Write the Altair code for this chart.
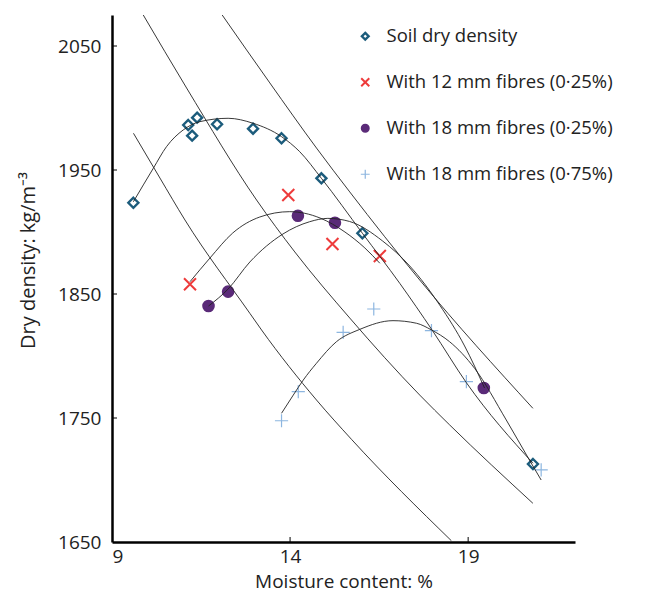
import altair as alt
import pandas as pd

# ---------------- measured points ----------------
series_names = ["Soil dry density", "With 12 mm fibres (0·25%)",
                "With 18 mm fibres (0·25%)", "With 18 mm fibres (0·75%)"]

soil_x = [9.60, 11.14, 11.39, 11.25, 11.95, 12.96, 13.76, 14.88, 16.03, 20.82]
soil_y = [1923.6, 1986.3, 1992.2, 1977.7, 1986.9, 1983.3, 1975.6, 1943.3, 1899.0, 1712.9]

f12_x = [11.19, 13.95, 15.19, 16.52]
f12_y = [1857.8, 1929.8, 1890.3, 1880.6]

f18a_x = [11.71, 12.26, 14.22, 15.26, 19.44]
f18a_y = [1840.3, 1851.9, 1913.1, 1907.5, 1774.2]

f18b_x = [13.76, 14.23, 15.49, 16.35, 17.97, 18.95, 21.05]
f18b_y = [1747.8, 1771.2, 1819.1, 1837.9, 1820.4, 1779.3, 1708.1]

# ---------------- fitted curves ----------------
soil_fit_x = [9.60, 10.16, 10.53, 11.00, 11.47, 12.26, 12.96, 13.76, 14.27, 14.88,
              16.03, 17.08, 18.00, 18.95, 20.82]
soil_fit_y = [1924.4, 1951.4, 1968.8, 1982.3, 1989.0, 1991.7, 1987.7, 1976.9, 1964.8,
              1943.3, 1899.0, 1858.6, 1820.4, 1778.5, 1713.5]

f12_fit_x = [11.19, 11.75, 12.39, 13.15, 13.99, 14.84, 15.54, 16.10, 16.52]
f12_fit_y = [1859.9, 1879.0, 1899.2, 1912.1, 1916.4, 1911.3, 1900.0, 1887.1, 1874.8]

f18a_fit_x = [11.71, 12.26, 12.87, 13.80, 14.55, 15.06, 15.67, 16.60, 17.36, 18.20, 18.90, 19.46]
f18a_fit_y = [1840.3, 1854.0, 1875.8, 1898.4, 1908.3, 1911.0, 1908.5, 1892.7, 1872.6,
              1841.1, 1808.1, 1774.2]

f18b_fit_x = [13.76, 14.09, 14.37, 14.74, 15.30, 15.96, 16.89, 17.55, 17.97, 18.48,
              19.18, 20.07, 20.72, 21.05]
f18b_fit_y = [1753.8, 1768.5, 1780.6, 1794.1, 1811.5, 1821.5, 1828.5, 1826.4, 1821.0,
              1811.5, 1790.1, 1748.4, 1716.1, 1700.0]

# ---------------- saturation / air-void lines ----------------
zav_a_x = [9.603, 10.346, 11.048, 12.871, 13.199, 14.742, 15.724, 18.529]
zav_a_y = [1979.6, 1943.5, 1909.7, 1834.4, 1821.0, 1764.5, 1732.8, 1651.0]

zav_b_x = [9.878, 11.095, 13.059, 14.133, 15.676, 17.640, 18.481, 20.818]
zav_b_y = [2075.0, 2016.1, 1925.8, 1883.9, 1830.6, 1768.5, 1744.4, 1681.2]

zav_c_x = [12.094, 13.432, 14.742, 15.676, 17.640, 20.818]
zav_c_y = [2075.0, 2020.2, 1967.7, 1932.3, 1861.3, 1757.8]

x_ticks = [9, 14, 19]
y_ticks = [1650, 1750, 1850, 1950, 2050]

# ---------------- tables ----------------
pts = []
for name, xs, ys in zip(series_names, [soil_x, f12_x, f18a_x, f18b_x],
                        [soil_y, f12_y, f18a_y, f18b_y]):
    for a, b in zip(xs, ys):
        pts.append({"x": a, "y": b, "series": name})
pts = pd.DataFrame(pts)

lines = []
for cname, xs, ys in [("soil", soil_fit_x, soil_fit_y), ("f12", f12_fit_x, f12_fit_y),
                      ("f18a", f18a_fit_x, f18a_fit_y), ("f18b", f18b_fit_x, f18b_fit_y),
                      ("za", zav_a_x, zav_a_y), ("zb", zav_b_x, zav_b_y),
                      ("zc", zav_c_x, zav_c_y)]:
    for i, (a, b) in enumerate(zip(xs, ys)):
        lines.append({"x": a, "y": b, "curve": cname, "o": i})
lines = pd.DataFrame(lines)

xt = pd.DataFrame({"v": x_ticks[1:]})
yt = pd.DataFrame({"v": y_ticks[1:]})

FONT = "Open Sans"
W, H = 463, 527

xs = alt.Scale(domain=[9, 22], nice=False, zero=False)
ys = alt.Scale(domain=[1650, 2075], nice=False, zero=False)

diamond = "M0,-0.5L0.5,0L0,0.5L-0.5,0Z"
xpath = "M-0.6,-0.6L0.6,0.6M-0.6,0.6L0.6,-0.6"
circ = "M-0.55,0A0.55,0.55 0 1,0 0.55,0A0.55,0.55 0 1,0 -0.55,0Z"
plus = "M-0.66,0L0.66,0M0,-0.66L0,0.66"

dom = series_names
points = alt.Chart(pts).mark_point(size=400, opacity=1).encode(
    x=alt.X("x:Q", scale=xs,
            axis=alt.Axis(values=x_ticks, title="Moisture content: %", format="d")),
    y=alt.Y("y:Q", scale=ys,
            axis=alt.Axis(values=y_ticks, title="Dry density: kg/m⁻³", format="d")),
    shape=alt.Shape("series:N", scale=alt.Scale(domain=dom, range=[diamond, xpath, circ, plus]),
                    legend=alt.Legend(title=None)),
    stroke=alt.Stroke("series:N", scale=alt.Scale(domain=dom,
                      range=["#1c5c7c", "#ee3b3b", "#5a2a78", "#8db6e0"]),
                      legend=alt.Legend(title=None)),
    fill=alt.Fill("series:N", scale=alt.Scale(domain=dom,
                  range=["transparent", "transparent", "#5a2a78", "transparent"]),
                  legend=alt.Legend(title=None)),
    strokeWidth=alt.StrokeWidth("series:N", scale=alt.Scale(domain=dom, range=[2.4, 1.2, 0.5, 1.0]),
                                legend=alt.Legend(title=None)),
)

curves = alt.Chart(lines).mark_line(interpolate="monotone", color="#222222",
                                    strokeWidth=0.9).encode(
    x=alt.X("x:Q", scale=xs), y=alt.Y("y:Q", scale=ys),
    detail="curve:N", order="o:Q")

ytick = alt.Chart(yt).mark_rule(color="black", strokeWidth=1).encode(
    y=alt.Y("v:Q", scale=ys), x=alt.value(0), x2=alt.value(5))
xtick = alt.Chart(xt).mark_rule(color="black", strokeWidth=1).encode(
    x=alt.X("v:Q", scale=xs), y=alt.value(H), y2=alt.value(H - 5))

chart = alt.layer(points, curves, ytick, xtick).properties(
    width=W, height=H,
    autosize=alt.AutoSizeParams(type="none"),
    padding={"left": 104, "top": 7, "right": 60, "bottom": 52},
).configure_view(stroke=None).configure_axis(
    domainColor="black", domainWidth=2.5, ticks=False, grid=False,
    labelFont=FONT, labelFontSize=19, labelColor="#222222",
    titleFont=FONT, titleFontSize=19, titleColor="#222222", titleFontWeight="normal",
).configure_axisY(
    labelPadding=11, titleX=-84, titleY=245, titleAngle=270, titleAlign="center",
    titleBaseline="middle", titleFontSize=20,
).configure_axisX(
    labelPadding=5, titlePadding=6,
).configure_legend(
    orient="none", legendX=244, legendY=12, padding=0,
    labelFont=FONT, labelFontSize=18.5, labelColor="#222222",
    symbolSize=180, rowPadding=27, labelOffset=12, labelLimit=400,
)

chart.save("out.html", embed_options={"renderer": "svg", "actions": False})
